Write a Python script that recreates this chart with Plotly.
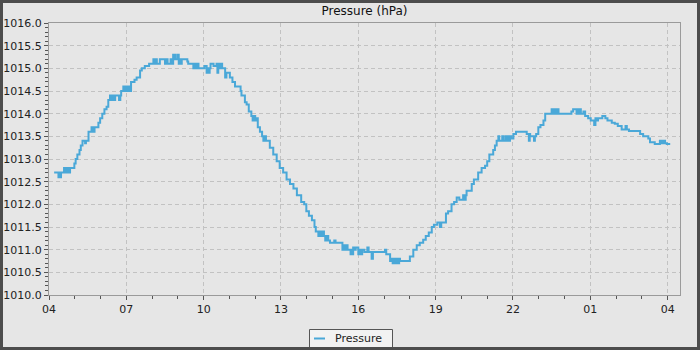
import pandas as pd
import plotly.graph_objects as go

# ---- data ----
start_time = "2024-01-01 04:00"
minutes_after_start = [
    12, 22, 24, 26, 28, 35, 37, 40, 42, 45,
    47, 49, 59, 62, 66, 71, 74, 78, 84, 86,
    92, 99, 101, 103, 105, 106, 115, 119, 124, 129,
    134, 138, 142, 146, 149, 151, 154, 163, 166, 168,
    173, 177, 180, 183, 186, 188, 191, 199, 204, 212,
    216, 223, 233, 243, 246, 249, 251, 258, 270, 273,
    276, 283, 285, 289, 291, 293, 295, 300, 302, 305,
    307, 309, 322, 324, 336, 339, 342, 345, 348, 362,
    367, 369, 371, 374, 376, 383, 390, 392, 394, 397,
    400, 403, 410, 413, 421, 427, 433, 446, 448, 456,
    460, 465, 471, 474, 477, 480, 483, 486, 491, 496,
    499, 502, 505, 514, 522, 530, 537, 545, 553, 561,
    569, 577, 587, 594, 599, 605, 612, 618, 621, 627,
    630, 633, 636, 640, 643, 646, 650, 654, 664, 667,
    683, 686, 689, 692, 695, 702, 704, 706, 708, 711,
    714, 720, 723, 726, 729, 734, 741, 744, 751, 754,
    782, 785, 794, 797, 800, 803, 806, 809, 812, 815,
    817, 840, 848, 856, 863, 871, 877, 884, 891, 896,
    904, 910, 913, 924, 929, 937, 943, 949, 955, 964,
    967, 970, 972, 984, 989, 999, 1007, 1015, 1020, 1025,
    1034, 1038, 1042, 1046, 1048, 1055, 1057, 1062, 1065, 1068,
    1070, 1073, 1076, 1081, 1087, 1112, 1117, 1119, 1120, 1129,
    1131, 1134, 1139, 1144, 1151, 1155, 1170, 1174, 1177, 1180,
    1183, 1186, 1216, 1220, 1228, 1231, 1234, 1236, 1238, 1244,
    1248, 1255, 1261, 1269, 1272, 1275, 1278, 1288, 1295, 1300,
    1310, 1317, 1324, 1333, 1342, 1345, 1350, 1376, 1383, 1395,
    1399, 1410, 1422, 1426, 1430, 1434, 1438, 1446,
]
pressure_hpa = [
    1012.7, 1012.6, 1012.7, 1012.6, 1012.7, 1012.8, 1012.7, 1012.8, 1012.7, 1012.8,
    1012.7, 1012.8, 1012.9, 1013.0, 1013.1, 1013.2, 1013.3, 1013.4, 1013.35, 1013.4,
    1013.6, 1013.7, 1013.6, 1013.7, 1013.6, 1013.7, 1013.8, 1013.9, 1014.0, 1014.1,
    1014.15, 1014.3, 1014.4, 1014.3, 1014.4, 1014.3, 1014.4, 1014.3, 1014.4, 1014.5,
    1014.6, 1014.5, 1014.6, 1014.5, 1014.6, 1014.5, 1014.7, 1014.75, 1014.8, 1014.95,
    1015.0, 1015.05, 1015.1, 1015.2, 1015.1, 1015.2, 1015.1, 1015.2, 1015.1, 1015.2,
    1015.1, 1015.2, 1015.1, 1015.3, 1015.2, 1015.3, 1015.2, 1015.3, 1015.1, 1015.2,
    1015.1, 1015.2, 1015.15, 1015.1, 1015.0, 1015.1, 1015.0, 1015.1, 1015.0, 1015.05,
    1014.9, 1015.0, 1014.9, 1015.0, 1015.1, 1015.05, 1015.1, 1014.9, 1015.1, 1015.0,
    1015.1, 1015.0, 1014.8, 1014.9, 1014.8, 1014.7, 1014.6, 1014.5, 1014.4, 1014.25,
    1014.2, 1014.05, 1013.95, 1013.85, 1013.95, 1013.85, 1013.9, 1013.7, 1013.6, 1013.5,
    1013.4, 1013.5, 1013.4, 1013.25, 1013.1, 1012.95, 1012.8, 1012.7, 1012.55, 1012.45,
    1012.35, 1012.2, 1012.05, 1012.0, 1011.85, 1011.75, 1011.65, 1011.5, 1011.4, 1011.3,
    1011.4, 1011.3, 1011.4, 1011.3, 1011.2, 1011.3, 1011.2, 1011.15, 1011.2, 1011.15,
    1011.0, 1011.1, 1011.0, 1011.1, 1011.0, 1010.9, 1011.0, 1010.9, 1011.05, 1011.0,
    1011.05, 1010.9, 1011.0, 1010.9, 1011.0, 1010.95, 1011.05, 1010.95, 1010.8, 1010.95,
    1011.0, 1010.9, 1010.75, 1010.8, 1010.7, 1010.8, 1010.7, 1010.8, 1010.7, 1010.8,
    1010.75, 1010.85, 1011.0, 1011.1, 1011.15, 1011.22, 1011.3, 1011.38, 1011.5, 1011.55,
    1011.6, 1011.5, 1011.6, 1011.8, 1011.85, 1012.0, 1012.05, 1012.15, 1012.1, 1012.2,
    1012.1, 1012.2, 1012.3, 1012.45, 1012.55, 1012.7, 1012.8, 1012.85, 1012.95, 1013.1,
    1013.2, 1013.3, 1013.4, 1013.5, 1013.4, 1013.5, 1013.4, 1013.5, 1013.4, 1013.5,
    1013.4, 1013.5, 1013.45, 1013.55, 1013.6, 1013.55, 1013.4, 1013.55, 1013.5, 1013.4,
    1013.5, 1013.55, 1013.7, 1013.75, 1013.85, 1014.0, 1014.1, 1014.0, 1014.1, 1014.0,
    1014.1, 1014.0, 1014.05, 1014.1, 1014.0, 1014.1, 1014.0, 1014.1, 1014.0, 1014.05,
    1013.95, 1013.9, 1013.85, 1013.75, 1013.9, 1013.85, 1013.9, 1013.95, 1013.9, 1013.85,
    1013.8, 1013.78, 1013.73, 1013.65, 1013.73, 1013.65, 1013.62, 1013.55, 1013.5, 1013.45,
    1013.37, 1013.33, 1013.4, 1013.35, 1013.4, 1013.35, 1013.33, 1013.33,
]
assert len(minutes_after_start) == len(pressure_hpa)

series_name = "Pressure"
chart_title = "Pressure (hPa)"
y_range = [1010.0, 1016.0]
x_span_hours = 24.48

# ---- build ----
base = pd.Timestamp(start_time)
times = [base + pd.Timedelta(minutes=m) for m in minutes_after_start]
x_end = base + pd.Timedelta(hours=x_span_hours)

W, H = 700, 350
ML, MR, MT, MB = 49, 20, 23, 55
pw, ph = W - ML - MR, H - MT - MB


def px_x(px):
    return (px - ML) / pw


def px_y(py):
    return (MT + ph - py) / ph


BG = "#e6e6e6"
LINE = "#4aa8d8"
AXIS = "#9a9a9a"
GRID = "#c2c2c2"
FONT = "DejaVu Sans"

fig = go.Figure()
fig.add_trace(go.Scatter(
    x=times, y=pressure_hpa, mode="lines", name=series_name,
    line=dict(color=LINE, width=2, shape="hv"), showlegend=False,
))

# legend box (drawn as layout decorations so its size matches the reference)
legend_shapes = [
    dict(type="rect", xref="paper", yref="paper",
         x0=px_x(309.5), x1=px_x(392.5), y0=px_y(347.5), y1=px_y(329.5),
         line=dict(color="#555555", width=1), fillcolor="#f2f2f2", layer="above"),
    dict(type="line", xref="paper", yref="paper",
         x0=px_x(314), x1=px_x(325), y0=px_y(338.5), y1=px_y(338.5),
         line=dict(color=LINE, width=2), layer="above"),
]
frame_shape = dict(type="rect", xref="paper", yref="paper",
                   x0=-ML / pw, x1=1 + MR / pw, y0=-MB / ph, y1=1 + MT / ph,
                   line=dict(color="#4d4d4d", width=6),
                   fillcolor="rgba(0,0,0,0)", layer="above")

fig.update_layout(
    width=W, height=H,
    margin=dict(l=ML, r=MR, t=MT, b=MB, pad=0, autoexpand=False),
    paper_bgcolor=BG, plot_bgcolor=BG,
    font=dict(family=FONT, size=11, color="#222222"),
    title=dict(text=chart_title, x=0.5, xref="paper", xanchor="center",
               y=1 - 11 / H, yref="container", yanchor="middle",
               font=dict(family=FONT, size=12, color="#111111")),
    showlegend=False,
    shapes=legend_shapes + [frame_shape],
    annotations=[dict(text=series_name, xref="paper", yref="paper",
                      x=px_x(333), y=px_y(338), xanchor="left", yanchor="middle",
                      showarrow=False,
                      font=dict(family=FONT, size=11, color="#222222"))],
)

fig.update_xaxes(
    type="date", range=[base, x_end], automargin=False,
    tick0=base, dtick=3 * 3600 * 1000, tickformat="%H",
    ticks="outside", ticklen=4, tickcolor="#555555",
    showline=True, mirror=True, linecolor=AXIS, linewidth=1,
    showgrid=True, gridcolor=GRID, griddash="4px,3px", gridwidth=1,
    zeroline=False,
    minor=dict(dtick=3600 * 1000, tick0=base, ticks="outside", ticklen=3,
               tickcolor="#555555", showgrid=False),
    tickfont=dict(family=FONT, size=11, color="#222222"),
)
fig.update_yaxes(
    range=y_range, dtick=0.5, tick0=1010, tickformat=".1f", automargin=False,
    ticks="outside", ticklen=4, tickcolor="#555555",
    showline=True, mirror=True, linecolor=AXIS, linewidth=1,
    showgrid=True, gridcolor=GRID, griddash="4px,3px", gridwidth=1,
    zeroline=False,
    minor=dict(dtick=0.1, ticks="outside", ticklen=3, tickcolor="#555555",
               showgrid=False),
    tickfont=dict(family=FONT, size=11, color="#222222"),
)

fig.write_html("out.html")
